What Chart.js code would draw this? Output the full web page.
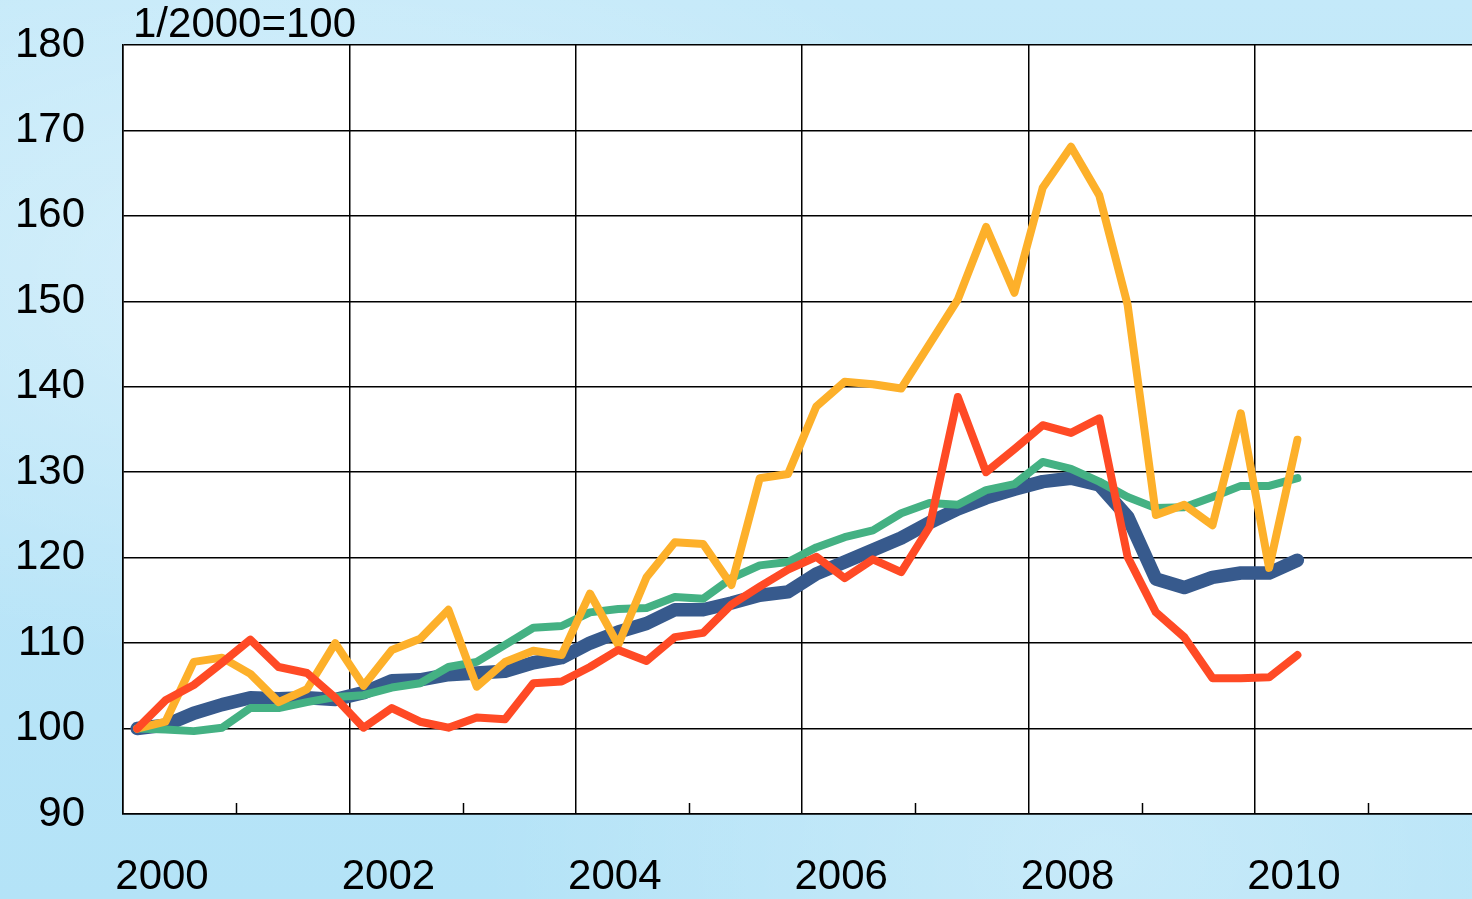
<!DOCTYPE html>
<html>
<head>
<meta charset="utf-8">
<script src="https://cdn.jsdelivr.net/npm/chart.js"></script>
<style>
  html, body { margin: 0; padding: 0; }
  body {
    width: 1472px; height: 899px; overflow: hidden;
    background:
      radial-gradient(ellipse at 20% 30%, rgba(255,255,255,0.35), rgba(255,255,255,0) 45%),
      radial-gradient(ellipse at 75% 95%, rgba(255,255,255,0.25), rgba(255,255,255,0) 40%),
      linear-gradient(180deg, #c4e9f9 0%, #bae5f8 60%, #b4e3f7 100%);
  }
  .chart-parent { position: relative; width: 1472px; height: 899px; }
</style>
</head>
<body>
<div class="chart-parent">
  <canvas id="myChart"></canvas>
</div>
<script>
// quarterly index, 1/2000 = 100
const startYear = 2000;
const yearLabelsShown = [2000, 2002, 2004, 2006, 2008, 2010];
const quarters = [];
for (let y = 2000; y <= 2010; y++) {
  for (let q = 1; q <= 4; q++) {
    if (y === 2010 && q > 2) break;
    quarters.push(y + "Q" + q);
  }
}

const redValues = [100, 103.3, 105.1, 107.7, 110.4, 107.2, 106.5, 103.6, 100.1, 102.4,
  100.8, 100.1, 101.3, 101.1, 105.3, 105.5, 107.2, 109.2, 107.9, 110.7,
  111.2, 114.5, 116.6, 118.6, 120.1, 117.6, 119.8, 118.3, 123.6, 138.8,
  130.0, 132.7, 135.5, 134.6, 136.3, 120.1, 113.6, 110.7, 105.9, 105.9,
  106.0, 108.6];
const orangeValues = [100, 100.8, 107.8, 108.3, 106.4, 103.1, 104.6, 110.0, 105.0, 109.2,
  110.5, 113.9, 104.9, 107.8, 109.1, 108.6, 115.8, 109.8, 117.7, 121.8,
  121.6, 116.8, 129.3, 129.8, 137.7, 140.6, 140.3, 139.8, 145.0, 150.2,
  158.7, 151.0, 163.3, 168.1, 162.4, 149.6, 125.0, 126.2, 123.8, 136.9,
  118.8, 133.8];
const greenValues = [100, 99.9, 99.7, 100.1, 102.4, 102.4, 103.1, 103.7, 103.9, 104.8,
  105.3, 107.2, 107.8, 109.8, 111.8, 112.0, 113.6, 114.0, 114.1, 115.4,
  115.2, 117.6, 119.1, 119.5, 121.2, 122.4, 123.2, 125.2, 126.4, 126.2,
  127.9, 128.6, 131.2, 130.4, 128.9, 127.1, 125.8, 125.9, 127.1, 128.4,
  128.4, 129.3];
const blueValues = [100, 100.4, 101.8, 102.8, 103.6, 103.5, 103.6, 103.4, 104.2, 105.6,
  105.7, 106.3, 106.5, 106.7, 107.7, 108.3, 110.0, 111.3, 112.3, 113.9,
  113.9, 114.7, 115.6, 116.0, 118.1, 119.5, 120.9, 122.3, 124.1, 125.7,
  127.0, 128.0, 128.9, 129.3, 128.5, 124.8, 117.5, 116.5, 117.7, 118.2,
  118.2, 119.7];

const yMin = 90, yMax = 180, yStep = 10;
const unitLabel = "1/2000=100";

// x = quarters since start of 2000, point drawn mid-quarter
const toPoints = (vals) => vals.map((v, i) => ({ x: i + 0.5, y: v }));

const FONT = "'Liberation Sans', Arial, sans-serif";
const FONT_SIZE = 42;

const plotBg = {
  id: "plotBg",
  beforeDraw(chart) {
    const { ctx, chartArea: a } = chart;
    ctx.save();
    ctx.fillStyle = "#ffffff";
    ctx.fillRect(a.left, a.top, a.right - a.left, a.bottom - a.top);
    ctx.restore();
  }
};

// short ticks at odd years, title text
const extras = {
  id: "extras",
  afterDraw(chart) {
    const { ctx, chartArea: a, scales } = chart;
    ctx.save();
    ctx.strokeStyle = "#000";
    ctx.lineWidth = 1.5;
    for (let v = 4; v < scales.x.max; v += 8) {
      const px = Math.round(scales.x.getPixelForValue(v)) + 0.5;
      ctx.beginPath();
      ctx.moveTo(px, a.bottom - 11);
      ctx.lineTo(px, a.bottom);
      ctx.stroke();
    }
    ctx.fillStyle = "#000";
    ctx.font = FONT_SIZE + "px " + FONT;
    ctx.textBaseline = "alphabetic";
    ctx.textAlign = "left";
    ctx.fillText(unitLabel, 133, 37);
    ctx.restore();
  }
};

const ctx = document.getElementById("myChart");

new Chart(ctx, {
  type: "line",
  data: {
    datasets: [
      { label: "red", data: toPoints(redValues), borderColor: "#ff4a25", borderWidth: 8 },
      { label: "orange", data: toPoints(orangeValues), borderColor: "#fdb02a", borderWidth: 8 },
      { label: "green", data: toPoints(greenValues), borderColor: "#44b183", borderWidth: 8 },
      { label: "blue", data: toPoints(blueValues), borderColor: "#375a8d", borderWidth: 13.5 }
    ]
  },
  options: {
    responsive: true,
    maintainAspectRatio: false,
    animation: false,
    devicePixelRatio: 1,
    layout: { padding: { top: 45, left: 0, right: 0, bottom: 0 } },
    elements: {
      point: { radius: 0 },
      line: { tension: 0, borderJoinStyle: "round", borderCapStyle: "round" }
    },
    plugins: { legend: { display: false }, tooltip: { enabled: false } },
    scales: {
      x: {
        type: "linear",
        min: 0,
        max: 47.67,
        afterFit: (s) => { s.height = 85; s.paddingLeft = 0; s.paddingRight = 0; },
        border: { display: true, color: "#000", width: 1.5 },
        grid: {
          drawTicks: false,
          lineWidth: 1.5,
          color: (c) => (c.tick && c.tick.value % 8 === 0 ? "#000" : "rgba(0,0,0,0)")
        },
        ticks: {
          stepSize: 4,
          includeBounds: false,
          autoSkip: false,
          maxRotation: 0,
          padding: 38,
          labelOffset: 39,
          color: "#000",
          font: { family: FONT, size: FONT_SIZE },
          callback: (v) => {
            const yr = startYear + v / 4;
            return yearLabelsShown.includes(yr) ? String(yr) : "";
          }
        }
      },
      y: {
        min: yMin,
        max: yMax,
        afterFit: (s) => { s.width = 123; s.paddingTop = 0; s.paddingBottom = 0; },
        border: { display: true, color: "#000", width: 1.5 },
        grid: { drawTicks: false, lineWidth: 1.5, color: "#000" },
        ticks: {
          stepSize: yStep,
          padding: 38,
          color: "#000",
          font: { family: FONT, size: FONT_SIZE }
        }
      }
    }
  },
  plugins: [plotBg, extras]
});
</script>
</body>
</html>
